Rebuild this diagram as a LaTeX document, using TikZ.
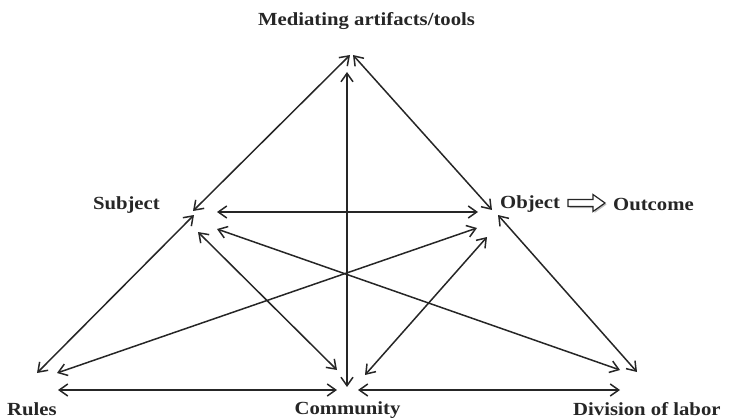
\documentclass[tikz,border=0pt]{standalone}
\usepackage{fontspec}
\setmainfont{Liberation Serif}[FakeStretch=1.12]
\usetikzlibrary{arrows.meta}
\definecolor{ink}{HTML}{262626}
\tikzset{
  lbl/.style={inner sep=0pt, text=ink, font=\fontsize{18.5}{20}\selectfont\bfseries},
  tip/.style={Straight Barb[length=8.5pt,width=12pt,line width=1.5pt]},
  conn/.style={draw=ink, line width=1.5pt, {Straight Barb[length=8.5pt,width=12pt,line width=1.5pt]}-{Straight Barb[length=8.5pt,width=12pt,line width=1.5pt]}},
  hollow/.style={draw=ink, line width=1.2pt, fill=white}
}
\begin{document}
\begin{tikzpicture}[x=1pt,y=-1pt]
\useasboundingbox (0,0) rectangle (729,420);
% labels
\node[lbl, anchor=base] (med) at (366.5,26) {Mediating artifacts/tools};
\node[lbl, anchor=base east] (sub) at (160,209) {Subject};
\node[lbl, anchor=base west] (obj) at (500,208) {Object};
\node[lbl, anchor=base west] (out) at (613,210) {Outcome};
\node[lbl, anchor=base west] (rul) at (7,415) {Rules};
\node[lbl, anchor=base] (com) at (347.5,414) {Community};
\node[lbl, anchor=base west] (div) at (573,415) {Division of labor};
% endpoints
\coordinate (apexL) at (350,55);
\coordinate (apexR) at (353,55);
\coordinate (apexV) at (347,72);
\coordinate (sTop) at (193,211);
\coordinate (sH) at (217,212);
\coordinate (sR) at (194,215);
\coordinate (sC) at (198,232);
\coordinate (sD) at (217,229);
\coordinate (oTop) at (492,210);
\coordinate (oH) at (478,212);
\coordinate (oR) at (477,228);
\coordinate (oC) at (487,237);
\coordinate (oD) at (498,215);
\coordinate (rS) at (37,373);
\coordinate (rO) at (57,373);
\coordinate (rH) at (58,390);
\coordinate (cS) at (337,370);
\coordinate (cO) at (365,375);
\coordinate (cV) at (347,387);
\coordinate (cL) at (337,390);
\coordinate (cR) at (358,390);
\coordinate (dS) at (620,370);
\coordinate (dO) at (637,372);
\coordinate (dH) at (620,390);
% connectors
\draw[conn] (apexL) -- (sTop);
\draw[conn] (apexR) -- (oTop);
\draw[conn] (apexV) -- (cV);
\draw[conn] (sH) -- (oH);
\draw[conn] (sR) -- (rS);
\draw[conn] (sC) -- (cS);
\draw[conn] (sD) -- (dS);
\draw[conn] (oR) -- (rO);
\draw[conn] (oC) -- (cO);
\draw[conn] (oD) -- (dO);
\draw[conn] (rH) -- (cL);
\draw[conn] (cR) -- (dH);
% hollow arrow Object -> Outcome
\draw[fill=black!25, draw=none, xshift=1.5pt, yshift=-1.5pt]
  (568,199.5) -- (593,199.5) -- (593,194.5) -- (605,203) -- (593,211.5) -- (593,206.5) -- (568,206.5) -- cycle;
\draw[hollow]
  (568,199.5) -- (593,199.5) -- (593,194.5) -- (605,203) -- (593,211.5) -- (593,206.5) -- (568,206.5) -- cycle;
\end{tikzpicture}
\end{document}
